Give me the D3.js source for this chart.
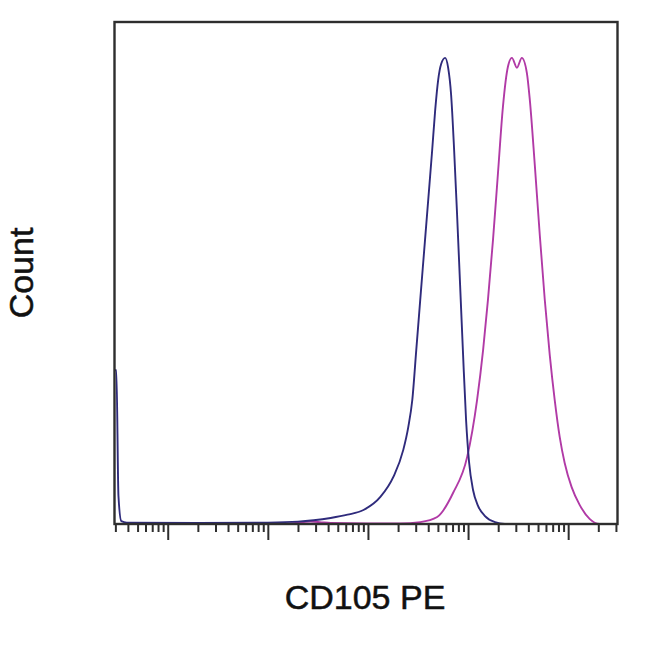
<!DOCTYPE html>
<html>
<head>
<meta charset="utf-8">
<script src="https://cdn.jsdelivr.net/npm/d3@7"></script>
<style>
  html, body { margin: 0; padding: 0; background: #ffffff; }
  svg { display: block; }
</style>
</head>
<body>
<svg id="chart" width="650" height="650"></svg>
<script>
// ---- data ----
const xAxisTitle = "CD105 PE";
const yAxisTitle = "Count";

const majorTicks = [10, 100, 1000, 10000, 100000];

// isotype / unstained (navy)
const blueX = [2.97, 3.07, 3.22, 3.44, 3.9, 20, 100, 200, 287, 424, 625, 902, 1331, 1794, 2254, 2528, 2773, 3038, 3329, 3649, 3999, 4384, 4695, 5030, 5387, 5906, 6324, 6772, 7256, 7772, 8326, 8918, 9554, 10233, 11215, 12580, 14763, 18566, 23345, 310000];
const blueY = [33, 33, 6, 0.6, 0.3, 0.2, 0.3, 0.5, 0.8, 1.3, 2.0, 3.0, 5.8, 10.1, 15.9, 20.8, 26.6, 37.3, 48.1, 58.8, 69.5, 80.3, 88.8, 95.3, 98.7, 100, 97.9, 92.1, 80.3, 66.3, 51.3, 36.3, 22.3, 13.3, 7.3, 3.9, 1.7, 0.4, 0, 0];

// CD105 PE stained (magenta)
const magX = [2.97, 150, 200, 268, 330, 424, 1000, 2104, 3329, 4915, 7100, 9800, 12300, 14130, 15800, 17740, 19900, 22300, 25010, 27420, 30760, 34460, 38660, 41390, 46420, 52050, 58380, 65450, 73400, 82290, 92300, 108300, 130200, 163700, 205800, 310000];
const magY = [0, 0, 0.3, 0.5, 0.4, 0.2, 0.1, 0.1, 0.4, 1.5, 6.7, 14.4, 26.6, 37.3, 48.1, 60.9, 75.3, 89.5, 98.1, 100, 97.9, 100, 96.8, 91.0, 77.0, 62.0, 48.1, 36.3, 26.6, 18.7, 13.1, 7.9, 4.1, 1.1, 0, 0];

// ---- layout ----
const svg = d3.select("#chart");
const plot = { left: 114.5, right: 617.5, top: 22, bottom: 524 };

const x = d3.scaleLog()
  .domain([2.94, 311000])
  .range([plot.left, plot.right]);

const y = d3.scaleLinear()
  .domain([0, 107.7])
  .range([plot.bottom, plot.top]);

const clipId = "plotclip";
svg.append("defs").append("clipPath").attr("id", clipId)
  .append("rect")
  .attr("x", plot.left).attr("y", plot.top)
  .attr("width", plot.right - plot.left)
  .attr("height", plot.bottom - plot.top);

const line = d3.line()
  .x(d => x(d[0]))
  .y(d => y(d[1]))
  .curve(d3.curveMonotoneX);

const blueData = blueX.map((v, i) => [v, blueY[i]]);
const magData = magX.map((v, i) => [v, magY[i]]);

const g = svg.append("g").attr("clip-path", `url(#${clipId})`);

g.append("path")
  .datum(magData)
  .attr("fill", "none")
  .attr("stroke", "#b13aa6")
  .attr("stroke-width", 1.9)
  .attr("stroke-linejoin", "round")
  .attr("d", line);

g.append("path")
  .datum(blueData)
  .attr("fill", "none")
  .attr("stroke", "#2f2b7c")
  .attr("stroke-width", 1.9)
  .attr("stroke-linejoin", "round")
  .attr("d", line);

// frame
svg.append("rect")
  .attr("x", plot.left).attr("y", plot.top)
  .attr("width", plot.right - plot.left)
  .attr("height", plot.bottom - plot.top)
  .attr("fill", "none")
  .attr("stroke", "#2e2e2e")
  .attr("stroke-width", 2.4);

// ticks
const minorTicks = x.ticks().filter(t => !majorTicks.includes(t));
const minorAxis = d3.axisBottom(x).tickValues(minorTicks).tickFormat("").tickSize(8).tickSizeOuter(0);
const majorAxis = d3.axisBottom(x).tickValues(majorTicks).tickFormat("").tickSize(16).tickSizeOuter(0);

const axG1 = svg.append("g").attr("transform", `translate(0,${plot.bottom})`).call(minorAxis);
const axG2 = svg.append("g").attr("transform", `translate(0,${plot.bottom})`).call(majorAxis);
[axG1, axG2].forEach(a => {
  a.select(".domain").remove();
  a.selectAll(".tick line").attr("stroke", "#2e2e2e").attr("stroke-width", 2);
});

// titles
svg.append("text")
  .attr("x", 365).attr("y", 609)
  .attr("text-anchor", "middle")
  .attr("font-family", "Liberation Sans, Arial, sans-serif")
  .attr("font-size", 34)
  .attr("fill", "#111111")
  .attr("stroke", "#111111")
  .attr("stroke-width", 0.5)
  .text(xAxisTitle);

svg.append("text")
  .attr("transform", "translate(33,273) rotate(-90)")
  .attr("text-anchor", "middle")
  .attr("font-family", "Liberation Sans, Arial, sans-serif")
  .attr("font-size", 34)
  .attr("fill", "#111111")
  .attr("stroke", "#111111")
  .attr("stroke-width", 0.5)
  .text(yAxisTitle);
</script>
</body>
</html>
